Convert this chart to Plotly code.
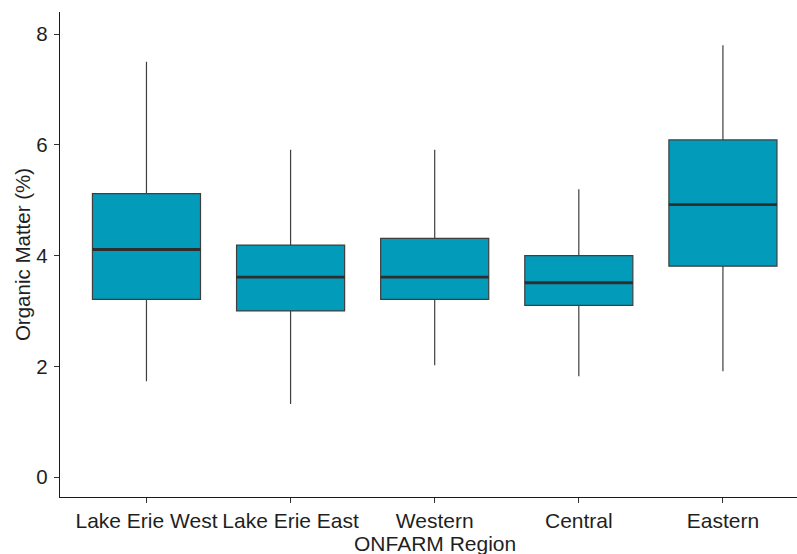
import plotly.graph_objects as go

# Organic matter (%) summary by ONFARM region
regions = ["Lake Erie West", "Lake Erie East", "Western", "Central", "Eastern"]
lower_whisker = [1.73, 1.32, 2.02, 1.82, 1.91]
q1 = [3.21, 3.00, 3.21, 3.10, 3.81]
median = [4.11, 3.61, 3.61, 3.51, 4.92]
q3 = [5.12, 4.19, 4.31, 4.00, 6.09]
upper_whisker = [7.50, 5.91, 5.91, 5.20, 7.80]

y_ticks = [0, 2, 4, 6, 8]

pos = list(range(len(regions)))
box_width = 0.75
fill = "#039BBA"
font = "Liberation Sans, Arial, sans-serif"
text_color = "#1f1f1f"

fig = go.Figure()

fig.add_trace(go.Box(
    x=pos,
    q1=q1,
    median=median,
    q3=q3,
    lowerfence=lower_whisker,
    upperfence=upper_whisker,
    width=box_width,
    whiskerwidth=0,
    fillcolor=fill,
    line=dict(color="#3f3f3f", width=1.2),
    boxpoints=False,
    hoverinfo="skip",
    showlegend=False,
))

# thicker median bars across each box
mx, my = [], []
for p, m in zip(pos, median):
    mx += [p - box_width / 2, p + box_width / 2, None]
    my += [m, m, None]
fig.add_trace(go.Scatter(
    x=mx, y=my, mode="lines",
    line=dict(color="#2e2e2e", width=2.8),
    hoverinfo="skip", showlegend=False,
))

fig.update_layout(
    width=797, height=554,
    margin=dict(l=60, r=0, t=12, b=57),
    plot_bgcolor="white", paper_bgcolor="white",
    font=dict(family=font, size=20, color=text_color),
    xaxis=dict(
        range=[-0.6, 4.514],
        tickmode="array", tickvals=pos, ticktext=regions,
        showline=True, linecolor="#1a1a1a", linewidth=1.3,
        ticks="outside", ticklen=5, tickcolor="#333333", tickwidth=1,
        showgrid=False, zeroline=False,
        tickfont=dict(size=21, color=text_color),
    ),
    yaxis=dict(
        range=[-0.36, 8.40],
        tickmode="array", tickvals=y_ticks,
        showline=True, linecolor="#1a1a1a", linewidth=1.3,
        ticks="outside", ticklen=5, tickcolor="#333333", tickwidth=1,
        showgrid=False, zeroline=False,
        tickfont=dict(size=20.5, color=text_color),
        ticklabelstandoff=2,
        title=dict(text="Organic Matter (%)", font=dict(size=20.5, color=text_color), standoff=0),
    ),
    annotations=[dict(
        text="ONFARM Region", x=2, xref="x", y=-0.095, yref="paper",
        xanchor="center", yanchor="middle", showarrow=False,
        font=dict(size=21, color=text_color),
    )],
)

fig.write_html("out.html")
